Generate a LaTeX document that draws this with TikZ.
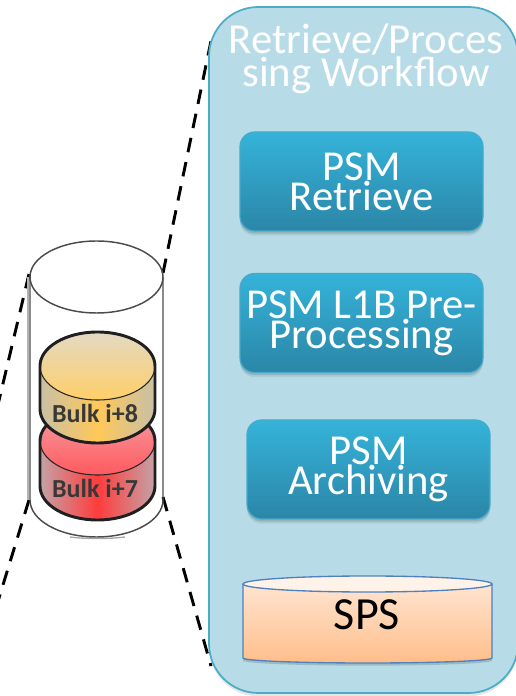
\documentclass[tikz,border=0pt]{standalone}
\usepackage{fontspec}
\setmainfont{Carlito}
\usetikzlibrary{shadows}
\tikzset{
  softshadow/.style={general shadow={fill=black,opacity=.07,shadow yshift=-3.5pt},general shadow={fill=black,opacity=.12,shadow yshift=-2pt}},
  panelbox/.style={draw=#1,line width=1.3pt,fill=panelfill,rounded corners=37pt,minimum width=231.75pt,minimum height=514.5pt,inner sep=0pt},
  panelbox/.default=panelline,
  taskbox/.style={draw=taskline,line width=.9pt,top color=tasktop,bottom color=taskbottom,rounded corners=11pt,minimum width=182.25pt,minimum height=74.25pt,inner sep=0pt,text=white,align=center,font=\fontsize{32}{22.5}\selectfont,softshadow},
  title/.style={text=white,align=center,font=\fontsize{32}{22.5}\selectfont,inner sep=0pt},
  guide/.style={black,line width=2.2pt,dash pattern=on 11pt off 7.5pt},
  bulktext/.style={font=\fontsize{19.5}{20}\selectfont\bfseries,text=black!78,inner sep=0pt},
  bulkline/.style={draw=black!88,line width=2.2pt},
  thinbulk/.style={draw=black!85,line width=.8pt},
  outerline/.style={draw=black!70,line width=1.1pt}
}
\definecolor{panelfill}{HTML}{B7DCE7}
\definecolor{panelline}{HTML}{4BACC6}
\definecolor{tasktop}{HTML}{35B3D9}
\definecolor{taskbottom}{HTML}{2B86A7}
\definecolor{taskline}{HTML}{45AACB}
\definecolor{spstop}{HTML}{FFE4D0}
\definecolor{spsbottom}{HTML}{FFBE8A}
\definecolor{spscap}{HTML}{FFF2E8}
\definecolor{spsline}{HTML}{4F81BD}
\definecolor{tanedge}{HTML}{C8C0A6}
\definecolor{tantop}{HTML}{E3D9C3}
\definecolor{tanlow}{HTML}{FFCF68}
\definecolor{tanmid}{HTML}{FFC858}
\definecolor{rededge}{HTML}{C4A2A6}
\definecolor{redmid}{HTML}{FF3C3C}
\definecolor{redtop}{HTML}{F4A0A6}
\definecolor{redlow}{HTML}{FF5A5E}
\begin{document}
\begin{tikzpicture}[x=0.75pt,y=0.75pt]
\useasboundingbox (0,0) rectangle (516,696);
\clip (0,0) rectangle (516,696);
% guide anchors
\coordinate (oTL) at (29,422);
\coordinate (oBL) at (29,196);
\coordinate (oTR) at (163,423);
\coordinate (oBR) at (163,199);
\coordinate (farTL) at (-4,283);
\coordinate (farBL) at (-5,85);
\coordinate (farTR) at (211,655);
\coordinate (farBR) at (211,30);
\draw[guide] (oTL) -- (farTL);
\draw[guide] (oBL) -- (farBL);
\draw[guide] (oTR) -- (farTR);
\draw[guide] (oBR) -- (farBR);
% panel
\node[panelbox,general shadow={fill=black,opacity=.10,shadow yshift=-2.5pt}] (panel) at (363.5,346) {};
\node[title] (paneltitle) at (366,637) {Retrieve/Proces\\sing Workflow};
\node[taskbox] (retrieve) at (361.5,514.5) {PSM\\Retrieve};
\node[taskbox] (l1b) at (361.5,373) {PSM L1B Pre-\\Processing};
\node[taskbox] (arch) at (368.5,226.5) {PSM\\Archiving};
% SPS
\path[general shadow={fill=black,opacity=.15,shadow yshift=-2pt},top color=spstop,bottom color=spsbottom]
  (243,112) -- (243,38) arc[start angle=180,end angle=360,x radius=124.5,y radius=5] -- (492,112) -- cycle;
\draw[spsline,line width=1pt] (243,112) -- (243,38) arc[start angle=180,end angle=360,x radius=124.5,y radius=5] -- (492,112);
\draw[spsline,line width=1pt,fill=spscap] (367.5,112) ellipse[x radius=124.5,y radius=8];
\node[font=\fontsize{34.5}{36}\selectfont,inner sep=0pt] (sps) at (367,81) {SPS};
% outer cylinder
\draw[black!30,line width=.8pt] (28,419) -- (28,196);
\draw[black!35,line width=1pt] (70,159) .. controls (85,157) and (110,157) .. (125,159);
\draw[outerline] (30,419) -- (30,196) arc[start angle=180,end angle=360,x radius=66.5,y radius=37] -- (163,419);
\draw[outerline] (96.5,419) ellipse[x radius=66.5,y radius=36];
% bulk i+7
\path[left color=rededge,right color=rededge,middle color=redmid]
  (40,255) -- (40,210) arc[start angle=180,end angle=360,x radius=57.5,y radius=34] -- (155,255) -- cycle;
\path[top color=redtop,bottom color=redlow] (97.5,255) ellipse[x radius=57.5,y radius=34];
\draw[thinbulk] (40,255) arc[start angle=180,end angle=360,x radius=57.5,y radius=34];
\draw[bulkline] (40,255) arc[start angle=180,end angle=0,x radius=57.5,y radius=34] -- (155,210) arc[start angle=360,end angle=180,x radius=57.5,y radius=34] -- cycle;
\node[bulktext] (b7) at (95,208) {Bulk i+7};
% bulk i+8
\path[left color=tanedge,right color=tanedge,middle color=tanmid]
  (40,330) -- (40,287) arc[start angle=180,end angle=360,x radius=57.5,y radius=34] -- (155,330) -- cycle;
\path[top color=tantop,bottom color=tanlow] (97.5,330) ellipse[x radius=57.5,y radius=34];
\draw[thinbulk] (40,330) arc[start angle=180,end angle=360,x radius=57.5,y radius=34];
\draw[bulkline] (40,330) arc[start angle=180,end angle=0,x radius=57.5,y radius=34] -- (155,287) arc[start angle=360,end angle=180,x radius=57.5,y radius=34] -- cycle;
\node[bulktext] (b8) at (95,283) {Bulk i+8};
\end{tikzpicture}
\end{document}
